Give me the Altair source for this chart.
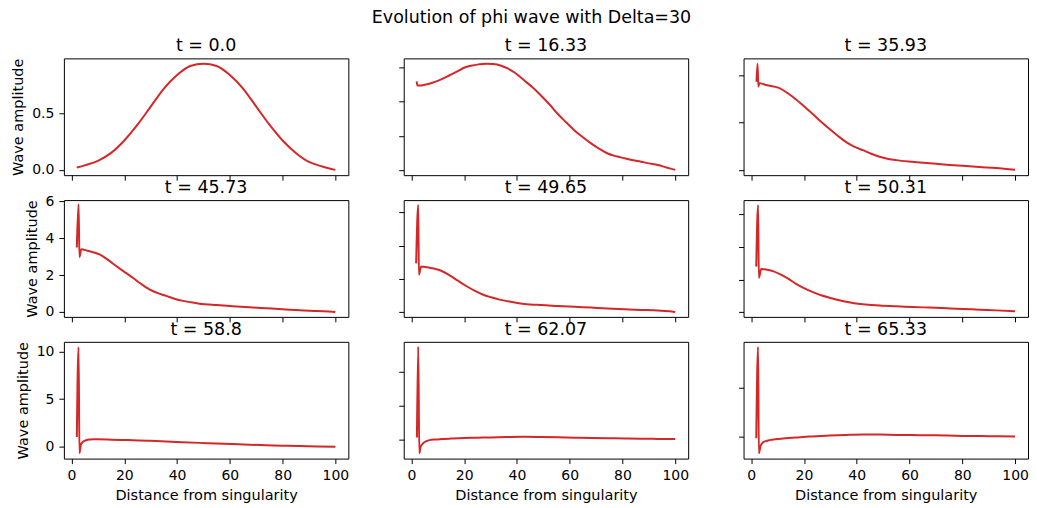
import altair as alt
import pandas as pd

FONT = "DejaVu Sans"
RED = "#d62728"

suptitle = "Evolution of phi wave with Delta=30"
titles = ["t = 0.0", "t = 16.33", "t = 35.93",
          "t = 45.73", "t = 49.65", "t = 50.31",
          "t = 58.8", "t = 62.07", "t = 65.33"]

x_ticks = [0, 20, 40, 60, 80, 100]

# t = 0.0
x1 = [2, 5, 10, 15, 20, 25, 30, 35, 40, 45, 50, 55, 60, 65, 70, 75, 80, 85, 90, 95, 100]
y1 = [0.02, 0.04, 0.08, 0.15, 0.26, 0.40, 0.56, 0.72, 0.84, 0.92, 0.94, 0.92, 0.84, 0.72,
      0.56, 0.40, 0.26, 0.15, 0.07, 0.03, 0.0]
# t = 16.33
x2 = [2.0, 2.3, 3, 5, 8, 11.3, 14.5, 17.6, 20, 22.6, 25.5, 28.3, 31, 34, 36.5, 39.1, 42.9, 46,
      49.2, 52.4, 55.5, 58.6, 61.8, 65, 68.1, 71.2, 74.4, 77.6, 80.8, 84, 87, 90, 93.4, 96.7, 100]
y2 = [1.30, 1.24, 1.24, 1.25, 1.28, 1.33, 1.39, 1.45, 1.50, 1.53, 1.55, 1.56, 1.555, 1.53, 1.49,
      1.43, 1.31, 1.21, 1.09, 0.96, 0.82, 0.70, 0.58, 0.48, 0.39, 0.31, 0.24, 0.20, 0.17, 0.14,
      0.12, 0.095, 0.07, 0.035, 0.0]
# t = 35.93
x3 = [2.0, 2.4, 2.7, 3.1, 5, 8, 10.7, 14, 17, 20, 23.4, 26.5, 29.7, 33, 36, 39, 42.3, 45.5,
      48.6, 52, 54.9, 61, 67.5, 74, 80.2, 86.5, 92.8, 100]
y3 = [3.72, 4.48, 3.52, 3.66, 3.60, 3.53, 3.45, 3.22, 2.97, 2.68, 2.35, 2.03, 1.72, 1.42, 1.17,
      0.98, 0.83, 0.68, 0.55, 0.46, 0.41, 0.34, 0.28, 0.22, 0.17, 0.12, 0.08, 0.0]
# t = 45.73
x4 = [2.0, 2.65, 3.0, 3.7, 6, 10.6, 13.7, 16.9, 20, 23.2, 26.3, 29.5, 32.7, 35.9, 39, 42.2,
      45.3, 48.5, 55, 61.1, 67.4, 73.7, 80, 86.4, 93, 100]
y4 = [3.5, 5.85, 2.99, 3.41, 3.33, 3.13, 2.84, 2.5, 2.18, 1.86, 1.53, 1.23, 1.02, 0.87, 0.72,
      0.6, 0.52, 0.45, 0.37, 0.31, 0.25, 0.2, 0.15, 0.09, 0.05, 0.0]
# t = 49.65
x5 = [1.8, 2.6, 2.85, 3.7, 6, 8.5, 11.3, 14.5, 17.6, 20.8, 23.9, 27, 30.2, 33.4, 36.6, 39.7,
      42.9, 49.2, 55.5, 61.8, 68.1, 74.4, 80.8, 87, 93.4, 100]
y5 = [2.94, 6.46, 2.26, 2.76, 2.71, 2.63, 2.5, 2.22, 1.9, 1.58, 1.3, 1.07, 0.9, 0.76, 0.66,
      0.57, 0.5, 0.43, 0.38, 0.33, 0.28, 0.23, 0.18, 0.14, 0.1, 0.02]
# t = 50.31
x6 = [1.9, 2.6, 2.9, 3.8, 6, 8.5, 10.7, 14, 17, 20, 23.4, 26.5, 29.7, 33, 36, 39, 42.3, 48.6,
      54.9, 61, 67.5, 74, 80.2, 86.5, 92.8, 100]
y6 = [2.79, 6.57, 2.1, 2.65, 2.6, 2.5, 2.34, 2.05, 1.73, 1.47, 1.22, 1.03, 0.88, 0.74, 0.63,
      0.54, 0.47, 0.4, 0.35, 0.31, 0.27, 0.23, 0.19, 0.14, 0.1, 0.04]
# t = 58.8
x7 = [2.0, 2.65, 3.0, 3.5, 4.3, 5.5, 6.8, 8.5, 10, 15, 20, 23.2, 30, 35.9, 42, 48.5, 55, 61.1,
      67.4, 73.7, 80, 86.4, 93, 100]
y7 = [1.03, 10.45, -0.68, 0.2, 0.51, 0.68, 0.76, 0.78, 0.78, 0.75, 0.71, 0.69, 0.62, 0.55,
      0.48, 0.41, 0.35, 0.28, 0.22, 0.17, 0.12, 0.07, 0.035, 0.0]
# t = 62.07
x8 = [2.1, 2.6, 3.0, 3.5, 4.4, 5.5, 6.9, 9, 11.3, 15, 20.1, 25, 30.2, 36, 42.9, 49, 55.5, 61.8,
      68.1, 74.4, 80.8, 87, 93.4, 100]
y8 = [0.33, 13.6, -1.98, -1.0, -0.53, -0.25, -0.05, 0.04, 0.1, 0.17, 0.25, 0.3, 0.34, 0.39,
      0.43, 0.4, 0.35, 0.3, 0.25, 0.22, 0.2, 0.16, 0.13, 0.1]
# t = 65.33
x9 = [1.9, 2.6, 2.9, 3.5, 4.4, 5.5, 6.9, 10, 13, 17, 22, 29.7, 36, 42.3, 48.6, 54.9, 61, 67.5,
      74, 80.2, 87, 93.4, 100]
y9 = [-0.33, 18.5, -3.47, -2.0, -1.22, -0.95, -0.74, -0.52, -0.36, -0.2, 0.0, 0.2, 0.33, 0.41,
      0.4, 0.34, 0.3, 0.27, 0.2, 0.14, 0.09, 0.05, 0.0]

xs = [x1, x2, x3, x4, x5, x6, x7, x8, x9]
ys = [y1, y2, y3, y4, y5, y6, y7, y8, y9]

y_domains = [[-0.047, 0.987], [-0.078, 1.638], [-0.224, 4.704],
             [-0.27, 6.08], [-0.28, 6.75], [-0.3, 6.88],
             [-1.24, 11.01], [-2.75, 14.3], [-4.55, 19.55]]
y_ticks = [[0, 0.5], [0, 0.5, 1.0, 1.5], [0, 2, 4],
           [0, 2, 4, 6], [0, 2, 4, 6], [0, 2, 4, 6],
           [0, 5, 10], [0, 5, 10], [0, 10]]
y_formats = [".1f", ".1f", "d", "d", "d", "d", "d", "d", "d"]

W, H = 285, 117


def panel(i):
    row, col = divmod(i, 3)
    df = pd.DataFrame({"x": xs[i], "y": ys[i], "k": list(range(len(xs[i])))})
    x_axis = alt.Axis(values=x_ticks, labels=(row == 2), format="d")
    y_axis = alt.Axis(values=y_ticks[i], labels=(col == 0), format=y_formats[i])
    line = alt.Chart(df).mark_line(color=RED, strokeWidth=2, interpolate="monotone").encode(
        x=alt.X("x:Q", scale=alt.Scale(domain=[-2.9, 104.9], nice=False, zero=False),
                axis=x_axis,
                title="Distance from singularity" if row == 2 else None),
        y=alt.Y("y:Q", scale=alt.Scale(domain=y_domains[i], nice=False, zero=False),
                axis=y_axis,
                title="Wave amplitude" if col == 0 else None),
        order="k:Q",
    )
    ttl = alt.Chart(pd.DataFrame({"label": [titles[i]]})).mark_text(
        font=FONT, fontSize=17.5, color="black", align="center", baseline="alphabetic",
    ).encode(x=alt.value(W / 2), y=alt.value(-7), text="label:N")
    layers = [line, ttl]
    if i == 1:
        sup = alt.Chart(pd.DataFrame({"label": [suptitle]})).mark_text(
            font=FONT, fontSize=17.5, color="black", align="center", baseline="alphabetic",
        ).encode(x=alt.value(128), y=alt.value(-35.8), text="label:N")
        layers.append(sup)
    return alt.layer(*layers).properties(width=W, height=H)


chart = alt.concat(
    *[panel(i) for i in range(9)], columns=3,
    spacing={"row": 25, "column": 55.5}, bounds="flush",
).properties(
    padding={"left": 2, "top": -1, "right": 0, "bottom": 0},
    background="white",
).configure_view(
    stroke="black", strokeWidth=1,
).configure_axis(
    grid=False, domain=False, tickColor="black", tickSize=5, tickWidth=1,
    labelFont=FONT, labelFontSize=14, labelColor="black", labelPadding=5,
    titleFont=FONT, titleFontSize=14.5, titleColor="black", titleFontWeight="normal",
    titlePadding=6,
)

chart.save("out.html", embed_options={"renderer": "svg", "actions": False})
